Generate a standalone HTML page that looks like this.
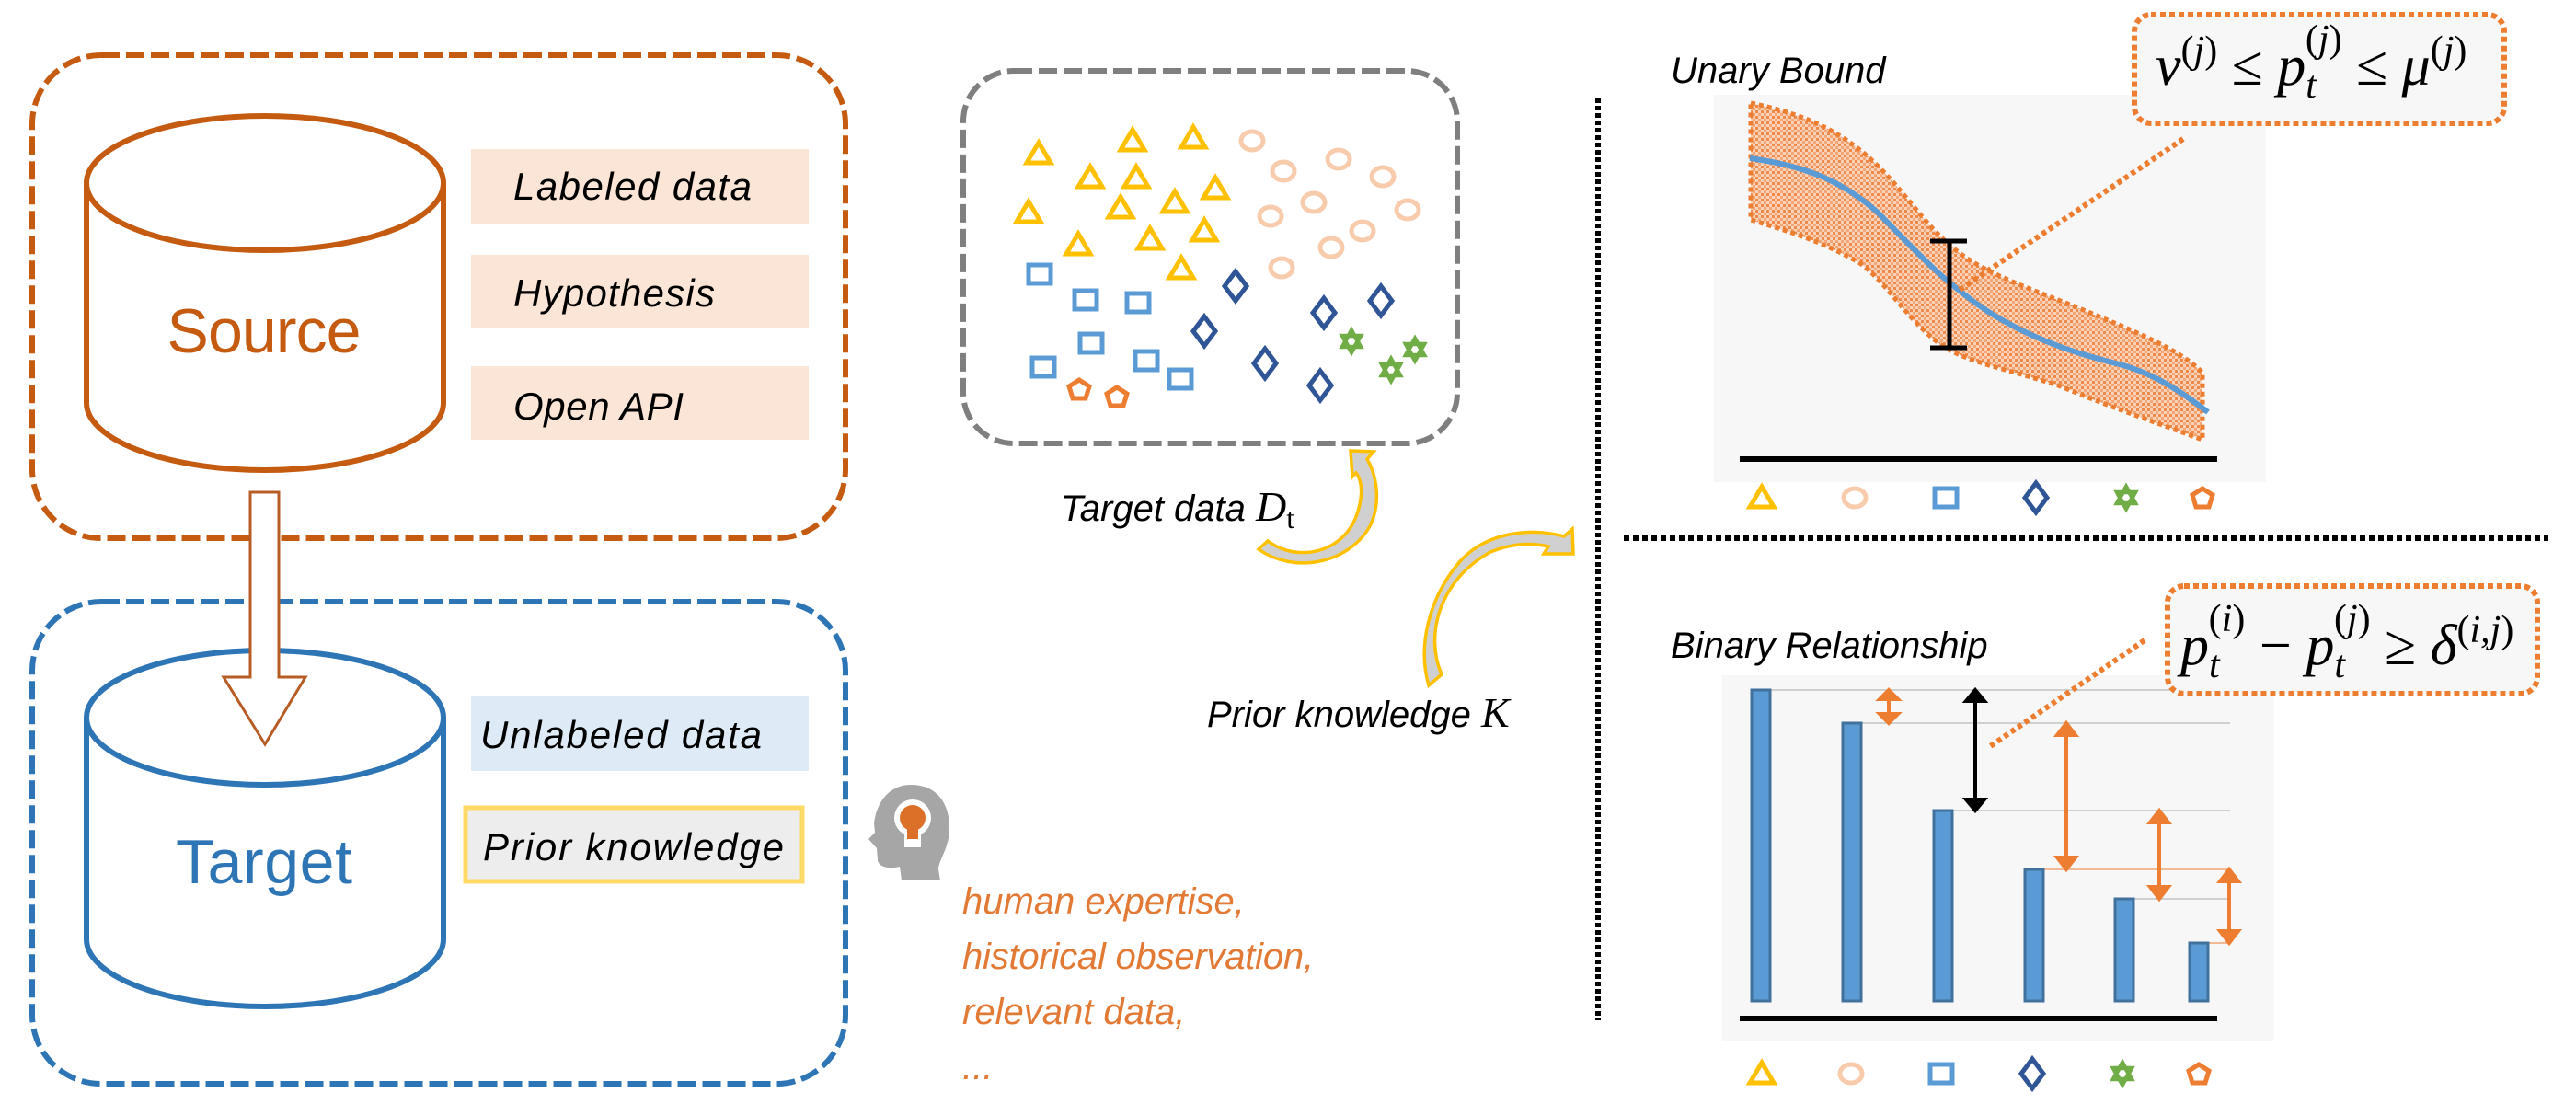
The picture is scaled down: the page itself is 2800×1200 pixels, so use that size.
<!DOCTYPE html>
<html><head><meta charset="utf-8"><style>
html,body{margin:0;padding:0;background:#fff;}
svg{display:block;}
.it{font-family:"Liberation Sans",sans-serif;font-style:italic;}
.m{font-family:"Liberation Serif",serif;font-style:italic;}
</style></head><body>
<svg width="2800" height="1200" viewBox="0 0 2800 1200" xmlns="http://www.w3.org/2000/svg">
<defs>
<pattern id="hat" width="6" height="6" patternUnits="userSpaceOnUse">
<rect width="6" height="6" fill="#f9d2b8"/><rect width="3" height="3" fill="#f08a4b"/><rect x="3" y="3" width="3" height="3" fill="#f4a676"/>
</pattern>
<g id="tri"><path d="M0,-12 L13,10 L-13,10 Z" fill="none" stroke="#ffc000" stroke-width="5"/></g>
<g id="cir"><ellipse rx="12" ry="10" fill="none" stroke="#f8cbad" stroke-width="5"/></g>
<g id="sq"><rect x="-12" y="-10" width="24" height="20" fill="none" stroke="#5b9bd5" stroke-width="5"/></g>
<g id="dia"><path d="M0,-16 L12,0 L0,16 L-12,0 Z" fill="none" stroke="#2f5597" stroke-width="5"/></g>
<g id="star"><path d="M0,-12 L10,6 L-10,6 Z M0,12 L10,-6 L-10,-6 Z" fill="none" stroke="#70ad47" stroke-width="4.5"/></g>
<g id="pen"><path d="M0,-10 L11,-3 L7,10 L-7,10 L-11,-3 Z" fill="none" stroke="#ed7d31" stroke-width="5"/></g>
</defs>

<!-- Source box -->
<rect x="35" y="60" width="884" height="525" rx="75" fill="none" stroke="#c55a11" stroke-width="6" stroke-dasharray="20 7"/>
<path d="M94,199 L94,438 A194,73 0 0 0 482,438 L482,199" fill="#fff" stroke="#c55a11" stroke-width="6"/>
<ellipse cx="288" cy="199" rx="194" ry="73" fill="#fff" stroke="#c55a11" stroke-width="6"/>
<text x="287" y="383" text-anchor="middle" font-family="Liberation Sans,sans-serif" font-size="68" fill="#c55a11" textLength="211">Source</text>
<rect x="512" y="162" width="367" height="81" fill="#fbe5d6"/>
<rect x="512" y="277" width="367" height="80" fill="#fbe5d6"/>
<rect x="512" y="398" width="367" height="80" fill="#fbe5d6"/>
<text class="it" x="558" y="217" font-size="42" textLength="259">Labeled data</text>
<text class="it" x="558" y="333" font-size="42" textLength="219">Hypothesis</text>
<text class="it" x="558" y="456" font-size="42" textLength="185">Open API</text>

<!-- Target box -->
<rect x="35" y="654" width="884" height="524" rx="75" fill="none" stroke="#2e75b6" stroke-width="6" stroke-dasharray="20 7"/>
<path d="M94,780 L94,1021 A194,73 0 0 0 482,1021 L482,780" fill="#fff" stroke="#2e75b6" stroke-width="6"/>
<ellipse cx="288" cy="780" rx="194" ry="73" fill="#fff" stroke="#2e75b6" stroke-width="6"/>
<text x="287" y="960" text-anchor="middle" font-family="Liberation Sans,sans-serif" font-size="68" fill="#2e75b6" textLength="192">Target</text>
<rect x="512" y="757" width="367" height="81" fill="#deebf7"/>
<rect x="506" y="878" width="366" height="80" fill="#ededed" stroke="#ffd966" stroke-width="5"/>
<text class="it" x="522" y="813" font-size="42" textLength="306">Unlabeled data</text>
<text class="it" x="525" y="935" font-size="42" textLength="327">Prior knowledge</text>

<!-- transfer arrow -->
<path d="M272,535 L303,535 L303,736 L332,736 L288,809 L243,736 L272,736 Z" fill="#fff" stroke="#b85c26" stroke-width="3"/>

<!-- head icon -->
<path d="M990,853 C1020,853 1032,875 1032,900 C1032,922 1020,935 1020,945 L1022,957 L980,957 L978,942 C965,945 955,942 954,935 L953,922 L944,912 L951,905 L950,895 C953,870 968,853 990,853 Z" fill="#a6a6a6"/>
<circle cx="992" cy="889" r="20" fill="#fff"/><rect x="983" y="895" width="18" height="26" fill="#fff"/>
<circle cx="992" cy="889" r="14" fill="#dd7028"/><rect x="986" y="895" width="12" height="17" fill="#dd7028"/>
<g class="it" font-size="40" fill="#e27a36">
<text x="1046" y="993">human expertise,</text>
<text x="1046" y="1053" textLength="382">historical observation,</text>
<text x="1046" y="1113">relevant data,</text>
<text x="1046" y="1173">...</text>
</g>

<!-- target data box -->
<rect x="1047" y="77" width="537" height="405" rx="55" fill="none" stroke="#7f7f7f" stroke-width="6" stroke-dasharray="20 7"/>
<use href="#tri" x="1129" y="167"/><use href="#tri" x="1231" y="153"/><use href="#tri" x="1297" y="150"/><use href="#tri" x="1185" y="193"/><use href="#tri" x="1235" y="193"/><use href="#tri" x="1321" y="205"/><use href="#tri" x="1118" y="231"/><use href="#tri" x="1218" y="226"/><use href="#tri" x="1277" y="220"/><use href="#tri" x="1172" y="266"/><use href="#tri" x="1250" y="260"/><use href="#tri" x="1309" y="251"/><use href="#tri" x="1284" y="292"/>
<use href="#cir" x="1361" y="153"/><use href="#cir" x="1395" y="186"/><use href="#cir" x="1455" y="173"/><use href="#cir" x="1503" y="192"/><use href="#cir" x="1428" y="220"/><use href="#cir" x="1381" y="235"/><use href="#cir" x="1530" y="228"/><use href="#cir" x="1481" y="251"/><use href="#cir" x="1447" y="269"/><use href="#cir" x="1393" y="291"/>
<use href="#sq" x="1130" y="298"/><use href="#sq" x="1180" y="326"/><use href="#sq" x="1237" y="329"/><use href="#sq" x="1186" y="373"/><use href="#sq" x="1134" y="399"/><use href="#sq" x="1246" y="392"/><use href="#sq" x="1283" y="412"/>
<use href="#dia" x="1343" y="311"/><use href="#dia" x="1309" y="360"/><use href="#dia" x="1439" y="340"/><use href="#dia" x="1501" y="327"/><use href="#dia" x="1375" y="395"/><use href="#dia" x="1435" y="419"/>
<use href="#star" x="1469" y="371"/><use href="#star" x="1512" y="402"/><use href="#star" x="1538" y="380"/>
<use href="#pen" x="1173" y="423"/><use href="#pen" x="1214" y="431"/>
<text class="it" x="1153" y="566" font-size="40">Target data <tspan class="m" font-size="46">D</tspan><tspan font-family="Liberation Serif,serif" font-style="normal" font-size="32" dy="8">t</tspan></text>
<path d="M1368,597 L1378,588 C1410,612 1462,602 1476,556 C1482,535 1480,522 1474,514 L1470,518 L1468,490 L1493,491 L1486,499 C1498,520 1500,548 1490,570 C1468,612 1408,625 1368,597 Z" fill="#d0d0d0" stroke="#ffc000" stroke-width="3.5"/>
<path d="M1553,745 L1567,733 C1548,690 1565,630 1620,600 C1645,590 1665,590 1683,594 L1678,602 L1710,602 L1709,575 L1700,583 C1660,572 1610,580 1583,615 C1555,650 1540,700 1553,745 Z" fill="#d0d0d0" stroke="#ffc000" stroke-width="3.5"/>
<text class="it" x="1312" y="790" font-size="40">Prior knowledge <tspan class="m" font-size="46">K</tspan></text>

<!-- separators -->
<line x1="1737" y1="107" x2="1737" y2="1109" stroke="#000" stroke-width="6" stroke-dasharray="5 3"/>
<line x1="1765" y1="585" x2="2770" y2="585" stroke="#000" stroke-width="6" stroke-dasharray="6 4"/>

<!-- Unary -->
<text class="it" x="1816" y="90" font-size="40">Unary Bound</text>
<rect x="1863" y="103" width="600" height="421" fill="#f7f7f7"/>
<path d="M1903,112 C1950,122 1990,135 2030,170 C2070,205 2090,245 2130,275 C2160,298 2210,315 2260,335 C2320,360 2370,380 2394,405 L2394,478 C2360,465 2300,445 2240,420 C2180,400 2140,395 2110,375 C2070,345 2050,305 2020,285 C1980,262 1940,250 1903,239 Z" fill="url(#hat)" stroke="#ed7d31" stroke-width="5" stroke-dasharray="5 4"/>
<path d="M1902,172 C1960,180 2000,195 2040,230 C2080,270 2110,305 2160,338 C2210,370 2260,385 2300,395 C2340,405 2370,425 2400,448" fill="none" stroke="#5b9bd5" stroke-width="6"/>
<line x1="2119" y1="262" x2="2119" y2="378" stroke="#000" stroke-width="5"/>
<line x1="2098" y1="262" x2="2138" y2="262" stroke="#000" stroke-width="5"/>
<line x1="2098" y1="378" x2="2138" y2="378" stroke="#000" stroke-width="5"/>
<line x1="1891" y1="499" x2="2410" y2="499" stroke="#000" stroke-width="6"/>
<line x1="2373" y1="151" x2="2130" y2="315" stroke="#ed7d31" stroke-width="6" stroke-dasharray="5 4"/>
<rect x="2320" y="16" width="402" height="118" rx="18" fill="#f7f7f7" stroke="#ed7d31" stroke-width="6" stroke-dasharray="6 4"/>
<text class="m" x="2343" y="92" font-size="62">ν<tspan font-style="normal" font-size="42" dy="-24">(</tspan><tspan font-size="42">j</tspan><tspan font-style="normal" font-size="42">)</tspan><tspan font-style="normal" dy="24"> ≤ </tspan>p<tspan font-size="42" dy="14">t</tspan><tspan font-style="normal" font-size="42" dx="-12" dy="-50">(</tspan><tspan font-size="42">j</tspan><tspan font-style="normal" font-size="42">)</tspan><tspan font-style="normal" dy="36"> ≤ </tspan>μ<tspan font-style="normal" font-size="42" dy="-24">(</tspan><tspan font-size="42">j</tspan><tspan font-style="normal" font-size="42">)</tspan></text>
<use href="#tri" x="1915" y="541"/><use href="#cir" x="2016" y="541"/><use href="#sq" x="2115" y="541"/><use href="#dia" x="2213" y="541"/><use href="#star" x="2311" y="541"/><use href="#pen" x="2394" y="541"/>

<!-- Binary -->
<text class="it" x="1816" y="715" font-size="40">Binary Relationship</text>
<rect x="1872" y="734" width="600" height="398" fill="#f7f7f7"/>
<g stroke="#aaa" stroke-width="1">
<line x1="1923" y1="750" x2="2424" y2="750"/><line x1="2023" y1="786" x2="2424" y2="786"/><line x1="2122" y1="881" x2="2424" y2="881"/><line x1="2319" y1="977" x2="2424" y2="977"/>
</g>
<line x1="2221" y1="945" x2="2424" y2="945" stroke="#ed7d31" stroke-width="1"/>
<line x1="2400" y1="1025" x2="2424" y2="1025" stroke="#ed7d31" stroke-width="1"/>
<g fill="#5b9bd5" stroke="#41719c" stroke-width="3">
<rect x="1904" y="750" width="20" height="338"/><rect x="2003" y="786" width="20" height="302"/><rect x="2102" y="881" width="20" height="207"/><rect x="2201" y="945" width="20" height="143"/><rect x="2299" y="977" width="20" height="111"/><rect x="2380" y="1025" width="20" height="63"/>
</g>
<line x1="1891" y1="1107" x2="2410" y2="1107" stroke="#000" stroke-width="6"/>
<g stroke="#ed7d31" stroke-width="4" fill="#ed7d31">
<line x1="2053" y1="756" x2="2053" y2="780"/><path d="M2043,760 L2053,750 L2063,760 Z M2043,776 L2053,786 L2063,776 Z"/>
<line x1="2246" y1="795" x2="2246" y2="936"/><path d="M2236,799 L2246,786 L2256,799 Z M2236,932 L2246,945 L2256,932 Z"/>
<line x1="2347" y1="890" x2="2347" y2="968"/><path d="M2337,894 L2347,881 L2357,894 Z M2337,964 L2347,977 L2357,964 Z"/>
<line x1="2423" y1="954" x2="2423" y2="1016"/><path d="M2413,958 L2423,945 L2433,958 Z M2413,1012 L2423,1025 L2433,1012 Z"/>
</g>
<g stroke="#000" stroke-width="4" fill="#000">
<line x1="2147" y1="758" x2="2147" y2="873"/><path d="M2137,762 L2147,750 L2157,762 Z M2137,869 L2147,881 L2157,869 Z"/>
</g>
<line x1="2331" y1="696" x2="2162" y2="812" stroke="#ed7d31" stroke-width="6" stroke-dasharray="5 4"/>
<rect x="2356" y="637" width="402" height="117" rx="18" fill="#f7f7f7" stroke="#ed7d31" stroke-width="6" stroke-dasharray="6 4"/>
<text class="m" x="2370" y="722" font-size="62">p<tspan font-size="42" dy="14">t</tspan><tspan font-style="normal" font-size="42" dx="-12" dy="-50">(</tspan><tspan font-size="42">i</tspan><tspan font-style="normal" font-size="42">)</tspan><tspan font-style="normal" dy="36"> − </tspan>p<tspan font-size="42" dy="14">t</tspan><tspan font-style="normal" font-size="42" dx="-12" dy="-50">(</tspan><tspan font-size="42">j</tspan><tspan font-style="normal" font-size="42">)</tspan><tspan font-style="normal" dy="36"> ≥ </tspan>δ<tspan font-style="normal" font-size="42" dy="-24">(</tspan><tspan font-size="42">i,j</tspan><tspan font-style="normal" font-size="42">)</tspan></text>
<use href="#tri" x="1915" y="1167"/><use href="#cir" x="2012" y="1167"/><use href="#sq" x="2110" y="1167"/><use href="#dia" x="2209" y="1167"/><use href="#star" x="2307" y="1167"/><use href="#pen" x="2390" y="1167"/>
</svg>
</body></html>
